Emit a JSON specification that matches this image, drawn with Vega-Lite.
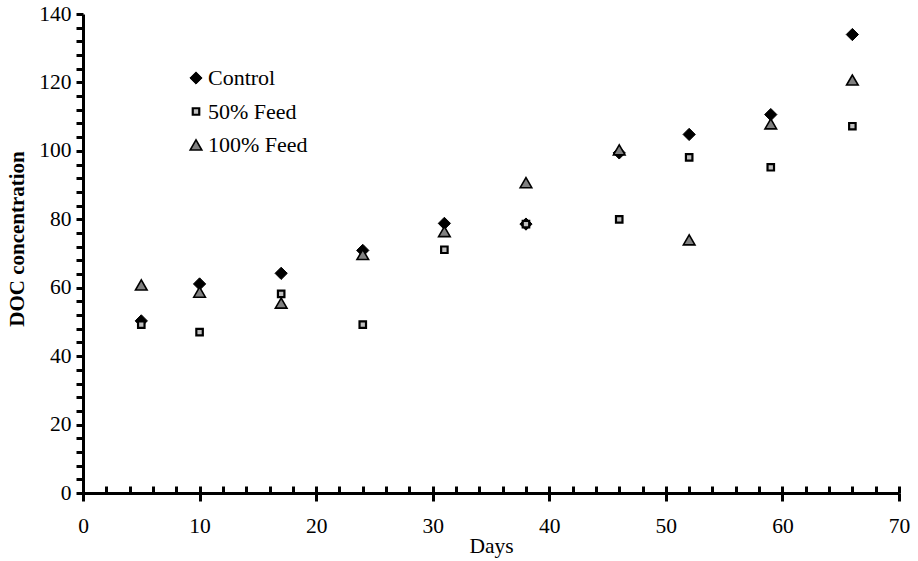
{
  "$schema": "https://vega.github.io/schema/vega-lite/v6.json",
  "width": 816,
  "height": 479,
  "autosize": "none",
  "padding": {"left": 83, "top": 14, "right": 19, "bottom": 68},
  "background": "white",
  "config": {
    "font": "Liberation Serif",
    "view": {"stroke": null},
    "legend": {
      "orient": "none",
      "legendX": 102,
      "legendY": 53,
      "labelFont": "Liberation Serif",
      "labelFontSize": 22,
      "labelColor": "black",
      "rowPadding": 11.5,
      "labelOffset": 1,
      "title": null
    }
  },
  "data": {
    "values": [
      {"day": 5, "series": "Control", "doc": 50.3},
      {"day": 10, "series": "Control", "doc": 61.1},
      {"day": 17, "series": "Control", "doc": 64.2},
      {"day": 24, "series": "Control", "doc": 70.9},
      {"day": 31, "series": "Control", "doc": 78.8},
      {"day": 38, "series": "Control", "doc": 78.6},
      {"day": 46, "series": "Control", "doc": 99.4},
      {"day": 52, "series": "Control", "doc": 104.8},
      {"day": 59, "series": "Control", "doc": 110.6},
      {"day": 66, "series": "Control", "doc": 134.0},
      {"day": 5, "series": "50% Feed", "doc": 49.2},
      {"day": 10, "series": "50% Feed", "doc": 47.0},
      {"day": 17, "series": "50% Feed", "doc": 58.2},
      {"day": 24, "series": "50% Feed", "doc": 49.2},
      {"day": 31, "series": "50% Feed", "doc": 71.1},
      {"day": 38, "series": "50% Feed", "doc": 78.6},
      {"day": 46, "series": "50% Feed", "doc": 80.0},
      {"day": 52, "series": "50% Feed", "doc": 98.1},
      {"day": 59, "series": "50% Feed", "doc": 95.2},
      {"day": 66, "series": "50% Feed", "doc": 107.2},
      {"day": 5, "series": "100% Feed", "doc": 60.8},
      {"day": 10, "series": "100% Feed", "doc": 58.7},
      {"day": 17, "series": "100% Feed", "doc": 55.5},
      {"day": 24, "series": "100% Feed", "doc": 69.7},
      {"day": 31, "series": "100% Feed", "doc": 76.4},
      {"day": 38, "series": "100% Feed", "doc": 90.7},
      {"day": 46, "series": "100% Feed", "doc": 100.3},
      {"day": 52, "series": "100% Feed", "doc": 74.0},
      {"day": 59, "series": "100% Feed", "doc": 107.9},
      {"day": 66, "series": "100% Feed", "doc": 120.7}
    ]
  },
  "resolve": {"axis": {"x": "independent"}},
  "layer": [
    {
      "mark": {"type": "point", "filled": true, "opacity": 1},
      "encoding": {
        "x": {
          "field": "day",
          "type": "quantitative",
          "scale": {"domain": [0, 70], "nice": false},
          "axis": {
            "orient": "bottom",
            "values": [0, 10, 20, 30, 40, 50, 60, 70],
            "grid": false,
            "domainColor": "black",
            "domainWidth": 3,
            "tickColor": "black",
            "tickWidth": 3,
            "tickSize": 8,
            "labelFont": "Liberation Serif",
            "labelFontSize": 21.5,
            "labelColor": "black",
            "labelPadding": 14,
            "labelFlush": false,
            "labelOverlap": false,
            "title": "Days",
            "titleFont": "Liberation Serif",
            "titleFontSize": 21.5,
            "titleFontWeight": "normal",
            "titleColor": "black",
            "titleBaseline": "alphabetic",
            "titleY": 59
          }
        },
        "y": {
          "field": "doc",
          "type": "quantitative",
          "scale": {"domain": [0, 140], "nice": false},
          "axis": {
            "values": [0, 4, 8, 12, 16, 20, 24, 28, 32, 36, 40, 44, 48, 52, 56, 60, 64, 68, 72, 76, 80, 84, 88, 92, 96, 100, 104, 108, 112, 116, 120, 124, 128, 132, 136, 140],
            "labelExpr": "datum.value % 20 === 0 ? datum.label : ''",
            "grid": false,
            "domainColor": "black",
            "domainWidth": 3,
            "tickColor": "black",
            "tickWidth": 3,
            "tickSize": 7,
            "labelFont": "Liberation Serif",
            "labelFontSize": 21.5,
            "labelColor": "black",
            "labelPadding": 5,
            "labelFlush": false,
            "labelOverlap": false,
            "title": "DOC concentration",
            "titleFont": "Liberation Serif",
            "titleFontSize": 21,
            "titleFontWeight": "bold",
            "titleColor": "black",
            "titleAngle": 270,
            "titleAlign": "center",
            "titleBaseline": "alphabetic",
            "titleX": -60,
            "titleY": 224.5
          }
        },
        "shape": {
          "field": "series",
          "type": "nominal",
          "sort": ["Control", "50% Feed", "100% Feed"],
          "scale": {"domain": ["Control", "50% Feed", "100% Feed"], "range": ["diamond", "square", "triangle-up"]}
        },
        "fill": {
          "field": "series",
          "type": "nominal",
          "sort": ["Control", "50% Feed", "100% Feed"],
          "scale": {"domain": ["Control", "50% Feed", "100% Feed"], "range": ["#000000", "#c0c0c0", "#808080"]}
        },
        "stroke": {
          "field": "series",
          "type": "nominal",
          "sort": ["Control", "50% Feed", "100% Feed"],
          "scale": {"domain": ["Control", "50% Feed", "100% Feed"], "range": ["#000000", "#000000", "#000000"]}
        },
        "size": {
          "field": "series",
          "type": "nominal",
          "sort": ["Control", "50% Feed", "100% Feed"],
          "scale": {"type": "ordinal", "domain": ["Control", "50% Feed", "100% Feed"], "range": [150, 42, 135]}
        },
        "strokeWidth": {
          "field": "series",
          "type": "nominal",
          "sort": ["Control", "50% Feed", "100% Feed"],
          "scale": {"type": "ordinal", "domain": ["Control", "50% Feed", "100% Feed"], "range": [1, 2.2, 1.6]}
        }
      }
    },
    {
      "mark": {"type": "point", "opacity": 0},
      "encoding": {
        "x": {
          "field": "day",
          "type": "quantitative",
          "axis": {
            "orient": "top",
            "offset": -479,
            "values": [0, 2, 4, 6, 8, 10, 12, 14, 16, 18, 20, 22, 24, 26, 28, 30, 32, 34, 36, 38, 40, 42, 44, 46, 48, 50, 52, 54, 56, 58, 60, 62, 64, 66, 68, 70],
            "labels": false,
            "domain": false,
            "grid": false,
            "tickColor": "black",
            "tickWidth": 3,
            "tickSize": 7,
            "title": null
          }
        }
      }
    }
  ]
}
